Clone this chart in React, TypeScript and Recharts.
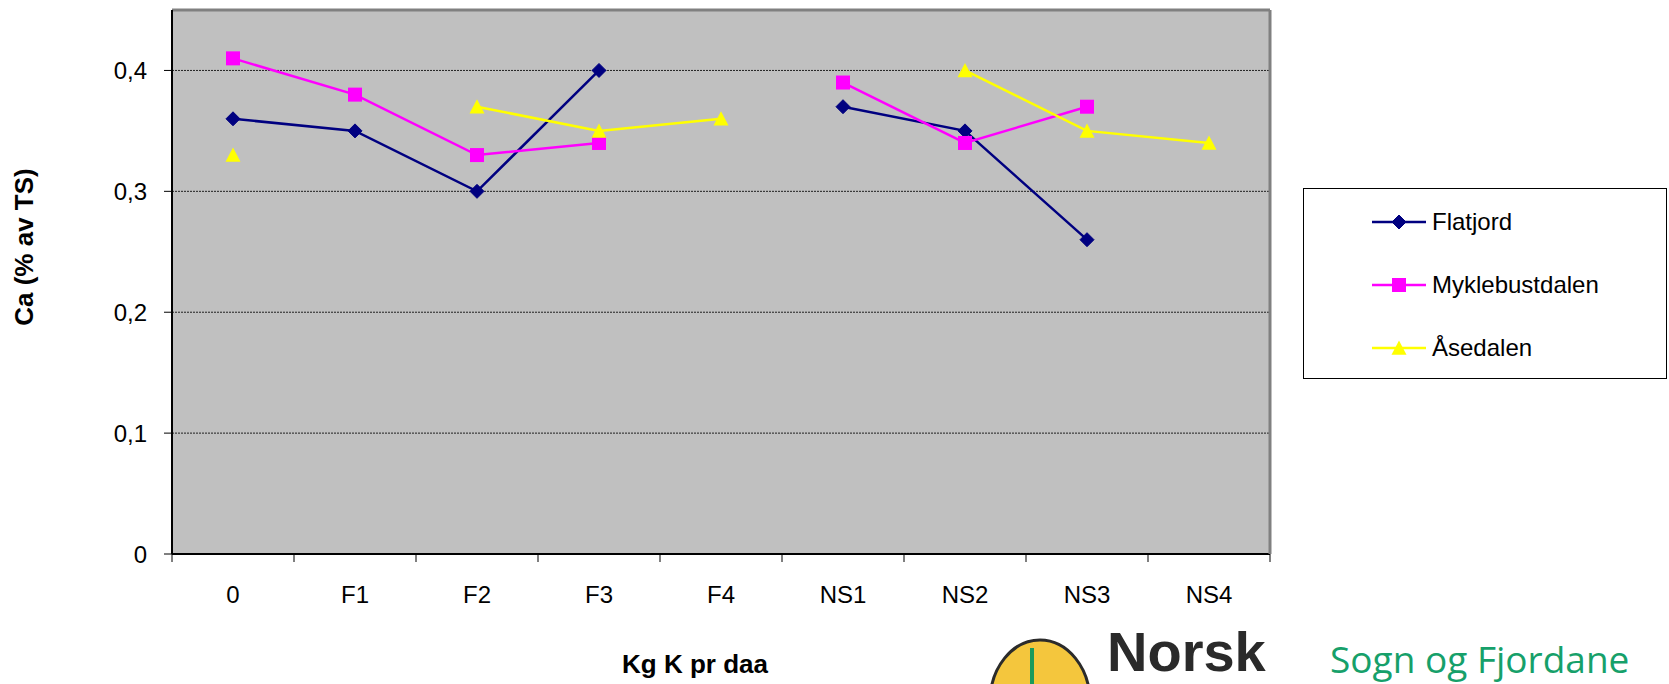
import { LineChart, Line, XAxis, YAxis, CartesianGrid, Legend } from 'recharts';

const categories = ['0', 'F1', 'F2', 'F3', 'F4', 'NS1', 'NS2', 'NS3', 'NS4'];
const flatjord = [0.36, 0.35, 0.3, 0.4, null, 0.37, 0.35, 0.26, null];
const myklebustdalen = [0.41, 0.38, 0.33, 0.34, null, 0.39, 0.34, 0.37, null];
const asedalen = [0.33, null, 0.37, 0.35, 0.36, null, 0.4, 0.35, 0.34];
const yTicks = [0, 0.1, 0.2, 0.3, 0.4];

const series = [
  { name: 'Flatjord', values: flatjord, color: '#000080', shape: 'diamond' },
  { name: 'Myklebustdalen', values: myklebustdalen, color: '#FF00FF', shape: 'square' },
  { name: 'Åsedalen', values: asedalen, color: '#FFFF00', shape: 'triangle' },
];

const rows = categories.map((cat, i) => {
  const row: Record<string, string | number | null> = { cat };
  series.forEach((s) => (row[s.name] = s.values[i]));
  return row;
});

const W = 1669;
const H = 684;
const PLOT_LEFT = 172;
const PLOT_RIGHT = 1270;
const PLOT_TOP = 10;
const PLOT_BOTTOM = 554;
const band = (PLOT_RIGHT - PLOT_LEFT) / categories.length;
const FONT = '"Liberation Sans", Arial, sans-serif';

function marker(shape: string, cx: number, cy: number, color: string) {
  if (shape === 'diamond') {
    const r = 7;
    return <polygon points={`${cx},${cy - r} ${cx + r},${cy} ${cx},${cy + r} ${cx - r},${cy}`} fill={color} stroke={color} strokeWidth={1} />;
  }
  if (shape === 'square') {
    const r = 7;
    return <rect x={cx - r} y={cy - r} width={r * 2} height={r * 2} fill={color} />;
  }
  const r = 7.5;
  return <polygon points={`${cx},${cy - r} ${cx + r},${cy + r * 0.9} ${cx - r},${cy + r * 0.9}`} fill={color} />;
}

function makeDot(shape: string, color: string) {
  return (props: any) => {
    const { cx, cy, value, index } = props;
    if (cx == null || cy == null || value == null) return <g key={index} />;
    return <g key={index}>{marker(shape, cx, cy, color)}</g>;
  };
}

function XTick(props: any) {
  const { x, y, payload, index } = props;
  const left = x - band / 2;
  return (
    <g>
      <line x1={left} x2={left} y1={y} y2={y + 8} stroke="#000" strokeWidth={1} />
      {index === categories.length - 1 && (
        <line x1={left + band} x2={left + band} y1={y} y2={y + 8} stroke="#000" strokeWidth={1} />
      )}
      <text x={x} y={y + 49} textAnchor="middle" fontSize={24} fontFamily={FONT} fill="#000">
        {payload.value}
      </text>
    </g>
  );
}

function LegendBox(props: any) {
  const items = props.payload || [];
  return (
    <div
      style={{
        boxSizing: 'border-box',
        width: 364,
        height: 191,
        border: '1px solid #000',
        background: '#fff',
        position: 'relative',
        fontFamily: FONT,
      }}
    >
      {items.map((item: any, i: number) => {
        const s = series.find((d) => d.name === item.value) || series[i];
        return (
          <div key={s.name} style={{ position: 'absolute', left: 68, top: 13 + i * 63, height: 40, display: 'flex', alignItems: 'center' }}>
            <svg width={54} height={40}>
              <line x1={0} x2={54} y1={20} y2={20} stroke={s.color} strokeWidth={2.5} />
              {marker(s.shape, 27, 20, s.color)}
            </svg>
            <span style={{ fontSize: 24, marginLeft: 6, color: '#000' }}>{s.name}</span>
          </div>
        );
      })}
    </div>
  );
}

export default function App() {
  return (
    <div style={{ position: 'relative', width: W, height: H, background: '#fff' }}>
      <style>{'body{margin:0}'}</style>
      <LineChart
        width={W}
        height={H}
        data={rows}
        margin={{ top: PLOT_TOP - 1, right: W - PLOT_RIGHT - 1, bottom: 0, left: 0 }}
      >
        <CartesianGrid fill="#C0C0C0" vertical={false} stroke="#202020" strokeDasharray="2 1" />
        <XAxis
          dataKey="cat"
          scale="band"
          height={H - PLOT_BOTTOM}
          tickSize={0}
          tickMargin={0}
          tick={<XTick />}
          interval={0}
          axisLine={{ stroke: '#000', strokeWidth: 2 }}
          label={{
            content: () => (
              <text x={695} y={673} textAnchor="middle" fontSize={26} fontWeight="bold" fontFamily={FONT} fill="#000">
                Kg K pr daa
              </text>
            ),
          }}
        />
        <XAxis
          xAxisId="top"
          dataKey="cat"
          scale="band"
          orientation="top"
          height={1}
          tick={false}
          tickLine={false}
          axisLine={{ stroke: '#808080', strokeWidth: 3 }}
        />
        <YAxis
          width={PLOT_LEFT}
          domain={[0, 0.45]}
          ticks={yTicks}
          interval={0}
          tickSize={8}
          tickMargin={17}
          tickLine={{ stroke: '#000' }}
          axisLine={{ stroke: '#000', strokeWidth: 2 }}
          tick={{ fontSize: 24, fill: '#000', fontFamily: FONT }}
          tickFormatter={(v: number) => String(v).replace('.', ',')}
          label={{
            content: () => (
              <text
                x={24}
                y={247}
                transform="rotate(-90 24 247)"
                textAnchor="middle"
                dominantBaseline="central"
                fontSize={26}
                fontWeight="bold"
                fontFamily={FONT}
                fill="#000"
              >
                Ca (% av TS)
              </text>
            ),
          }}
        />
        <YAxis
          yAxisId="right"
          orientation="right"
          width={1}
          domain={[0, 0.45]}
          tick={false}
          tickLine={false}
          axisLine={{ stroke: '#808080', strokeWidth: 3 }}
        />
        <Legend
          layout="vertical"
          align="center"
          verticalAlign="middle"
          content={<LegendBox />}
          wrapperStyle={{ position: 'absolute', left: 1303, top: 188, width: 364, height: 191 }}
        />
        {series.map((s) => (
          <Line
            key={s.name}
            dataKey={s.name}
            name={s.name}
            stroke={s.color}
            strokeWidth={2.5}
            dot={makeDot(s.shape, s.color)}
            activeDot={false}
            isAnimationActive={false}
            connectNulls={false}
          />
        ))}
      </LineChart>
      <svg width={W} height={H} style={{ position: 'absolute', left: 0, top: 0, pointerEvents: 'none' }}>
        <ellipse cx={1040} cy={702} rx={50} ry={62} fill="#F4C63D" stroke="#2b2b2b" strokeWidth={3} />
        <line x1={1032} x2={1032} y1={648} y2={684} stroke="#1a9a5c" strokeWidth={4} />
        <text x={1107} y={671} fontSize={56} fontWeight={900} fontFamily={FONT} fill="#2a2a2a">
          Norsk
        </text>
        <text x={1330} y={673} fontSize={37} fontFamily='"Open Sans", sans-serif' fill="#16a06a">
          Sogn og Fjordane
        </text>
      </svg>
    </div>
  );
}
